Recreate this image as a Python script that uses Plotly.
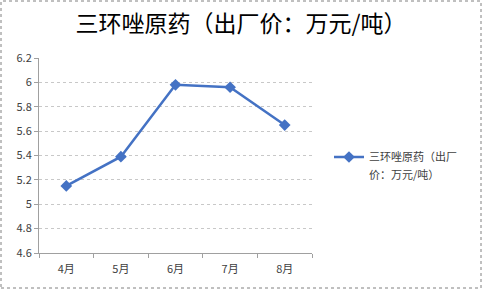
import plotly.graph_objects as go

months = ["4月", "5月", "6月", "7月", "8月"]
prices = [5.15, 5.39, 5.98, 5.96, 5.65]
series_name = "三环唑原药（出厂"
series_name_line2 = "价：万元/吨）"
title_text = "三环唑原药（出厂价：万元/吨）"

W, H = 482, 289
L, R, T, B = 39, 170, 58, 36
pw, ph = W - L - R, H - T - B

fig = go.Figure()
fig.add_trace(go.Scatter(
    x=months, y=prices, mode="lines+markers", name=series_name,
    line=dict(color="#4472C4", width=2.5),
    marker=dict(symbol="diamond", size=9, color="#4472C4"),
))

fig.update_layout(
    width=W, height=H,
    margin=dict(l=L, r=R, t=T, b=B),
    paper_bgcolor="white", plot_bgcolor="white",
    font=dict(family="Noto Sans CJK SC, sans-serif", size=11, color="#404040"),
    title=dict(text=title_text, x=0.5, xref="container", xanchor="center",
               y=1 - 24 / H, yanchor="middle",
               font=dict(size=23, color="#000000")),
    showlegend=True,
    legend=dict(x=(329 - L) / pw, xanchor="left", y=(H - B - 157) / ph, yanchor="middle",
                font=dict(size=11, color="#404040"), bgcolor="rgba(0,0,0,0)",
                itemwidth=30),
    annotations=[dict(text=series_name_line2, xref="paper", yref="paper",
                      x=(367 - L) / pw, xanchor="left",
                      y=(H - B - 174) / ph, yanchor="middle", showarrow=False,
                      font=dict(size=11, color="#404040"))],
    xaxis=dict(showline=True, linecolor="#A0A0A0", linewidth=1,
               ticks="outside", ticklen=4, tickcolor="#A0A0A0", tickson="boundaries",
               ticklabelstandoff=6,
               showgrid=False, range=[-0.5, 4.5], fixedrange=True,
               tickfont=dict(size=11)),
    yaxis=dict(range=[4.6, 6.2], dtick=0.2, tick0=4.6,
               showgrid=True, gridcolor="#C8C8C8", griddash="dot", gridwidth=1,
               showline=True, linecolor="#A0A0A0", linewidth=1,
               ticks="outside", ticklen=4, tickcolor="#A0A0A0",
               zeroline=False, tickfont=dict(size=11)),
    shapes=[dict(type="rect", xref="paper", yref="paper",
                 x0=(-L + 1) / pw, x1=(W - L - 1) / pw,
                 y0=-(B - 1) / ph, y1=(H - B - 1) / ph,
                 line=dict(color="#808080", width=1, dash="dot"))],
)

fig.write_html("out.html")
